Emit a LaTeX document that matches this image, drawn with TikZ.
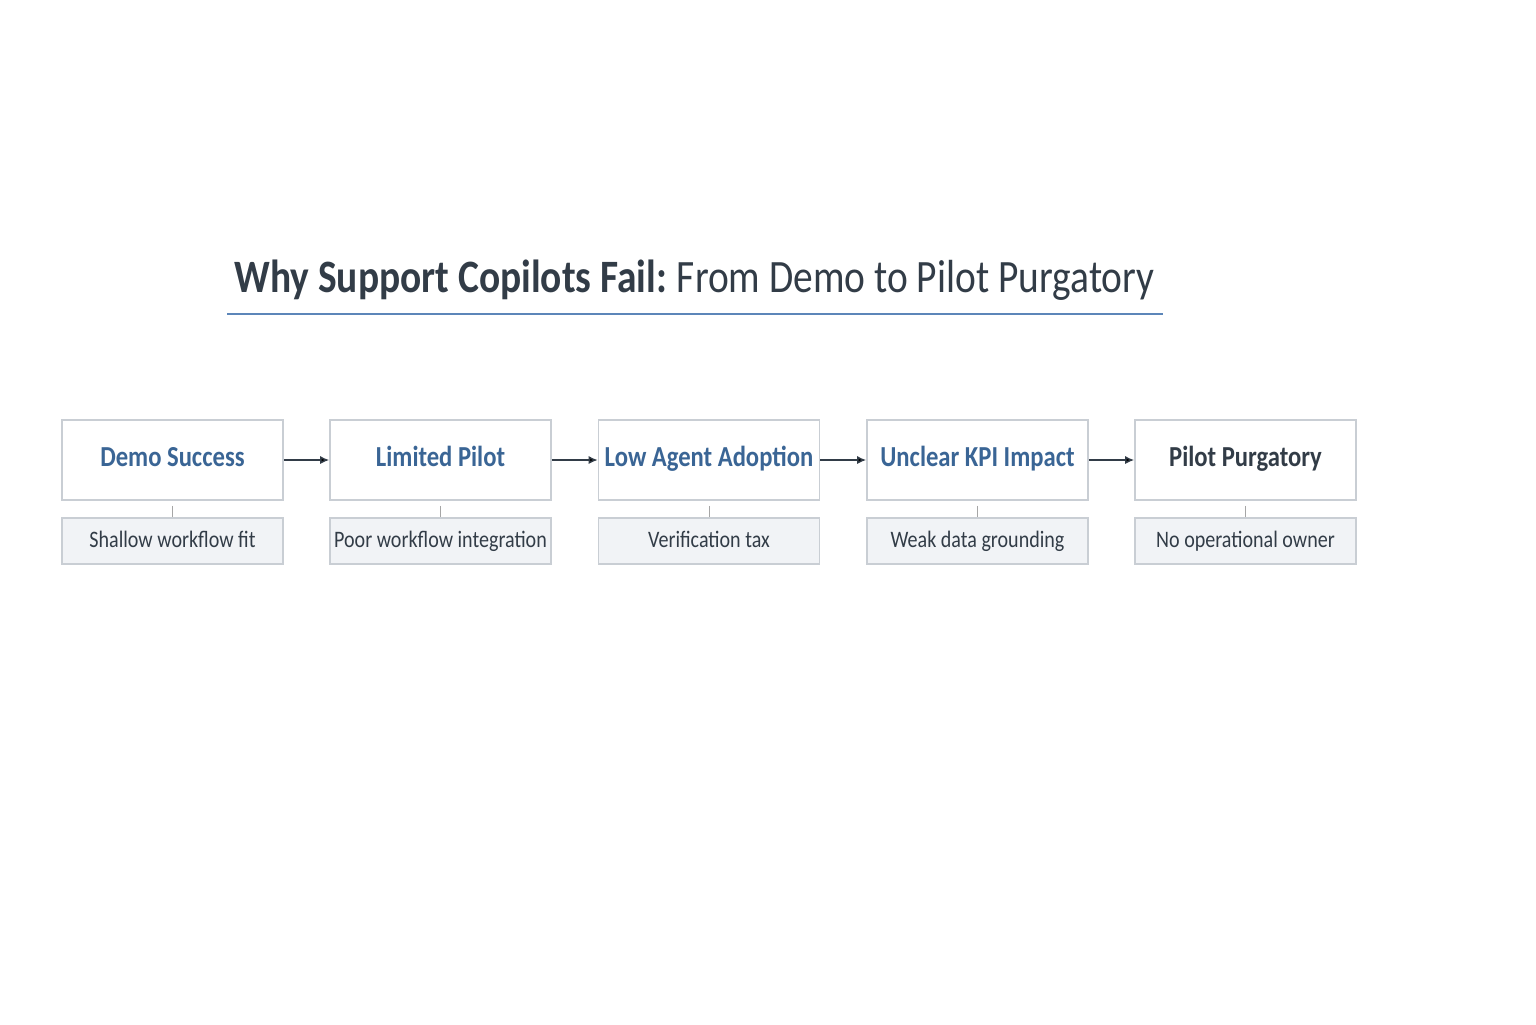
\documentclass[tikz,border=0pt]{standalone}
\usepackage{fontspec}
\setmainfont{Carlito}[FakeStretch=0.85]
\usetikzlibrary{positioning,arrows.meta}
\definecolor{stageblue}{HTML}{3A6595}
\definecolor{inkgray}{HTML}{323C47}
\definecolor{edgegray}{HTML}{C9CED4}
\definecolor{subfill}{HTML}{F1F3F6}
\definecolor{rulecol}{HTML}{5C86B9}
\tikzset{S node/.style={draw=edgegray,line width=0.8pt,fill=white,minimum width=110.5pt,minimum height=40pt,inner sep=0pt,text height=0.63em,text depth=0pt,font=\fontsize{14.5}{16}\selectfont\bfseries,text=stageblue},
	R node/.style={draw=edgegray,line width=0.8pt,fill=subfill,minimum width=110.5pt,minimum height=23pt,inner sep=0pt,text height=0.63em,text depth=0pt,font=\fontsize{11.8}{13}\selectfont,text=inkgray},
	flow/.style={-{Latex[length=4.5pt,width=4pt]},line width=0.7pt,draw=inkgray},
	tick/.style={line width=0.5pt,draw=gray!70},}

\begin{document}
\begin{tikzpicture}[x=0.5pt,y=-0.5pt]
			\fill[white] (0,0) rectangle (1536,1024);
			\useasboundingbox (0,0) rectangle (1536,1024);

			\node[text=inkgray,anchor=base west,inner sep=0pt] (title) at (234,292) {\fontsize{23.2}{26}\selectfont\textbf{Why Support Copilots Fail:}\hspace{-1pt} From Demo to Pilot Purgatory};
			\draw[rulecol,line width=0.7pt] (227,314) -- (1163,314);

			\node[S node] (1) at (172.5,460) {Demo Success};
			\node[S node] (2) at (440.5,460) {Limited Pilot};
			\node[S node] (3) at (709,460) {Low Agent Adoption};
			\node[S node] (4) at (977.5,460) {Unclear KPI Impact};
			\node[S node,text=inkgray] (5) at (1245.5,460) {Pilot Purgatory};

			\node[R node] (r1) at (172.5,541) {Shallow workflow fit};
			\node[R node] (r2) at (440.5,541) {Poor workflow integration};
			\node[R node] (r3) at (709,541) {Verification tax};
			\node[R node] (r4) at (977.5,541) {Weak data grounding};
			\node[R node] (r5) at (1245.5,541) {No operational owner};

			\path[flow]
				(1) edge (2)
				(2) edge (3)
				(3) edge (4)
				(4) edge (5);

			\path[tick]
				([yshift=-2.5pt]1.south) edge (r1)
				([yshift=-2.5pt]2.south) edge (r2)
				([yshift=-2.5pt]3.south) edge (r3)
				([yshift=-2.5pt]4.south) edge (r4)
				([yshift=-2.5pt]5.south) edge (r5);
		\end{tikzpicture}
\end{document}
